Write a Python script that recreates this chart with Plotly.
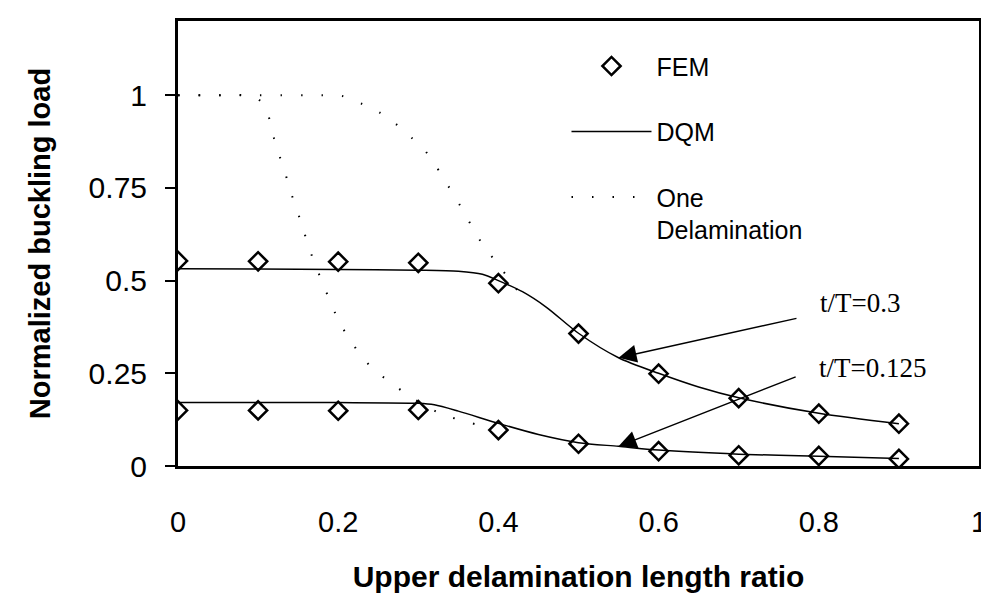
import plotly.graph_objects as go

# ---------------- data ----------------
x_fem = [0.0, 0.1, 0.2, 0.3, 0.4, 0.5, 0.6, 0.7, 0.8, 0.9]
fem_03 = [0.553, 0.552, 0.551, 0.548, 0.493, 0.357, 0.249, 0.183, 0.141, 0.114]
fem_0125 = [0.150, 0.150, 0.149, 0.151, 0.097, 0.060, 0.040, 0.029, 0.027, 0.019]

x_dqm_03 = [0.0, 0.1, 0.2, 0.3, 0.35, 0.38, 0.4, 0.43, 0.46, 0.5, 0.55, 0.6, 0.65, 0.7, 0.8, 0.9]
dqm_03 = [0.532, 0.531, 0.530, 0.528, 0.525, 0.517, 0.500, 0.470, 0.428, 0.358, 0.292, 0.250, 0.213, 0.184, 0.142, 0.114]

x_dqm_0125 = [0.0, 0.1, 0.2, 0.3, 0.32, 0.35, 0.4, 0.45, 0.5, 0.55, 0.6, 0.7, 0.8, 0.9]
dqm_0125 = [0.171, 0.171, 0.171, 0.169, 0.165, 0.148, 0.115, 0.085, 0.063, 0.053, 0.043, 0.032, 0.026, 0.020]

x_one_03 = [0.0, 0.03, 0.055, 0.08, 0.102, 0.129, 0.156, 0.18, 0.205, 0.228, 0.251, 0.271,
            0.29, 0.304, 0.319, 0.332, 0.358, 0.37, 0.383, 0.399, 0.425]
one_03 = [1.0, 1.0, 1.0, 1.0, 1.0, 1.0, 1.0, 1.0, 0.998, 0.978, 0.954, 0.924,
          0.888, 0.862, 0.819, 0.774, 0.681, 0.633, 0.589, 0.545, 0.47]

x_one_0125 = [0.0, 0.03, 0.055, 0.08, 0.10, 0.112, 0.118, 0.125, 0.133, 0.14, 0.156, 0.163,
              0.201, 0.215, 0.229, 0.246, 0.267, 0.287, 0.325, 0.349, 0.373, 0.39]
one_0125 = [1.0, 1.0, 1.0, 1.0, 0.99, 0.95, 0.898, 0.847, 0.796, 0.744, 0.642, 0.591,
            0.39, 0.34, 0.296, 0.257, 0.223, 0.191, 0.144, 0.126, 0.112, 0.105]

x_ticks = [0, 0.2, 0.4, 0.6, 0.8, 1]
x_ticktext = ["0", "0.2", "0.4", "0.6", "0.8", "1"]
y_ticks = [0, 0.25, 0.5, 0.75, 1]
y_ticktext = ["0", "0.25", "0.5", "0.75", "1"]

label_03 = "t/T=0.3"
label_0125 = "t/T=0.125"

# ---------------- figure ----------------
SANS = "Liberation Sans, Arial, sans-serif"
SERIF = "Liberation Serif, Times New Roman, serif"
dot_dash = "1.5px,19px"

fig = go.Figure()

fig.add_trace(go.Scatter(x=x_fem, y=fem_03, mode="markers", name="FEM", legendgroup="a",
                         marker=dict(symbol="diamond-open", size=14, color="black",
                                     line=dict(width=2.5, color="black"))))
fig.add_trace(go.Scatter(x=x_fem, y=fem_0125, mode="markers", name="FEM", legendgroup="a",
                         showlegend=False,
                         marker=dict(symbol="diamond-open", size=14, color="black",
                                     line=dict(width=2.5, color="black"))))
fig.add_trace(go.Scatter(x=x_dqm_03, y=dqm_03, mode="lines", name="DQM", legendgroup="b",
                         line=dict(color="black", width=1.5, shape="spline", smoothing=0.8)))
fig.add_trace(go.Scatter(x=x_dqm_0125, y=dqm_0125, mode="lines", name="DQM", legendgroup="b",
                         showlegend=False,
                         line=dict(color="black", width=1.5, shape="spline", smoothing=0.8)))
fig.add_trace(go.Scatter(x=x_one_03, y=one_03, mode="lines", name="One<br>Delamination",
                         legendgroup="c",
                         line=dict(color="black", width=2, dash=dot_dash, shape="spline",
                                   smoothing=0.8)))
fig.add_trace(go.Scatter(x=x_one_0125, y=one_0125, mode="lines", name="One Delamination",
                         legendgroup="c", showlegend=False,
                         line=dict(color="black", width=2, dash=dot_dash, shape="spline",
                                   smoothing=0.8)))

annotations = [
    # arrows
    dict(x=x_dqm_03[10], y=dqm_03[10], ax=0.774, ay=0.399, xref="x", yref="y",
         axref="x", ayref="y", text="", showarrow=True, arrowhead=2, arrowsize=2.4,
         arrowwidth=1.5, arrowcolor="black"),
    dict(x=x_dqm_0125[9], y=dqm_0125[9], ax=0.773, ay=0.242, xref="x", yref="y",
         axref="x", ayref="y", text="", showarrow=True, arrowhead=2, arrowsize=2.4,
         arrowwidth=1.5, arrowcolor="black"),
    # labels
    dict(x=0.851, y=0.44, xref="x", yref="y", text=label_03, showarrow=False,
         font=dict(family=SERIF, size=27, color="black")),
    dict(x=0.867, y=0.265, xref="x", yref="y", text=label_0125, showarrow=False,
         font=dict(family=SERIF, size=27, color="black")),
]

fig.update_layout(
    width=989, height=597,
    margin=dict(l=170, r=10, t=13, b=139),
    paper_bgcolor="white", plot_bgcolor="white",
    font=dict(family=SANS, color="black"),
    showlegend=True,
    legend=dict(x=0.485, y=0.95, xanchor="left", yanchor="top",
                bgcolor="rgba(0,0,0,0)", font=dict(family=SANS, size=25, color="black"),
                traceorder="grouped", tracegroupgap=30, itemwidth=80, valign="top"),
    annotations=annotations,
    xaxis=dict(range=[0, 1], tickvals=x_ticks, ticktext=x_ticktext,
               showline=True, linewidth=3, linecolor="black", mirror=True,
               showgrid=False, zeroline=False, ticks="",
               tickfont=dict(family=SANS, size=29, color="black"),
               ticklabelstandoff=28,
               title=dict(text="Upper delamination length ratio", standoff=30,
                          font=dict(family=SANS, size=30, color="black", weight="bold"))),
    yaxis=dict(range=[0, 1.2], tickvals=y_ticks, ticktext=y_ticktext,
               showline=True, linewidth=3, linecolor="black", mirror=True,
               showgrid=False, zeroline=False, ticks="outside", ticklen=10,
               tickwidth=1.5, tickcolor="black",
               tickfont=dict(family=SANS, size=30, color="black"),
               ticklabelstandoff=12,
               title=dict(text="Normalized buckling load", standoff=30,
                          font=dict(family=SANS, size=29, color="black", weight="bold"))),
)

fig.write_html("out.html")
